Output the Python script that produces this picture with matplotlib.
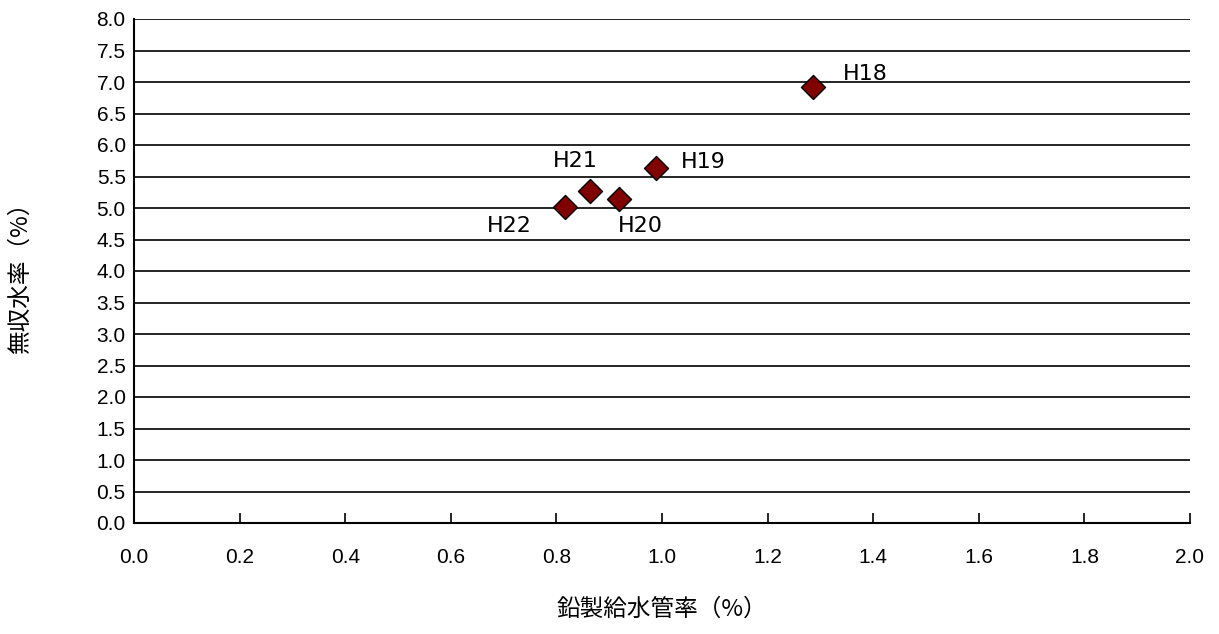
"""Scatter of lead service pipe ratio vs non-revenue water ratio."""
import matplotlib
matplotlib.use("Agg")
import matplotlib.pyplot as plt
import numpy as np

plt.rcParams["font.family"] = ["Liberation Sans", "Noto Sans CJK JP", "DejaVu Sans"]

labels = ["H18", "H19", "H20", "H21", "H22"]
lead_ratio = [1.286, 0.989, 0.919, 0.864, 0.816]
nrw_ratio = [6.92, 5.63, 5.14, 5.27, 5.02]
# label offsets in pixels (dx, dy)
offsets = [(30, 13), (25, 6), (-1, -27), (-37, 30), (-78, -19)]

fig = plt.figure(figsize=(12.19, 6.34), dpi=100)
ax = fig.add_axes([134 / 1219, 1 - 523 / 634, (1190 - 134) / 1219, (523 - 19) / 634])

ax.scatter(lead_ratio, nrw_ratio, marker="D", s=150, color="#800000",
           edgecolor="black", linewidth=1.0, zorder=3)
for lab, x, y, (dx, dy) in zip(labels, lead_ratio, nrw_ratio, offsets):
    ax.annotate(lab, (x, y), xytext=(dx, dy), textcoords="offset pixels",
                fontsize=16, family=["DejaVu Sans"], ha="left", va="center")

ax.set_xlim(0, 2.0)
ax.set_ylim(0, 8.0)
ax.set_xticks(np.arange(0, 2.01, 0.2))
ax.set_yticks(np.arange(0, 8.01, 0.5))
ax.set_xticklabels([f"{v:.1f}" for v in np.arange(0, 2.01, 0.2)])
ax.set_yticklabels([f"{v:.1f}" for v in np.arange(0, 8.01, 0.5)])
ax.yaxis.grid(True, color="black", linewidth=1.2)
ax.set_axisbelow(True)
ax.tick_params(axis="x", direction="in", length=7, width=1.2, pad=18, labelsize=15)
ax.tick_params(axis="y", length=0, pad=6, labelsize=15)
ax.spines["top"].set_visible(False)
ax.spines["right"].set_visible(False)
for s in ("left", "bottom"):
    ax.spines[s].set_linewidth(1.5)

ax.set_xlabel("鉛製給水管率（%）", fontsize=17, labelpad=22,
              family=["Noto Sans CJK JP", "DejaVu Sans"])
ax.set_ylabel("無収水率（%）", fontsize=17,
              family=["Noto Sans CJK JP", "DejaVu Sans"])
ax.yaxis.set_label_coords(-0.097, 0.5)

fig.savefig("out.png", dpi=100)
